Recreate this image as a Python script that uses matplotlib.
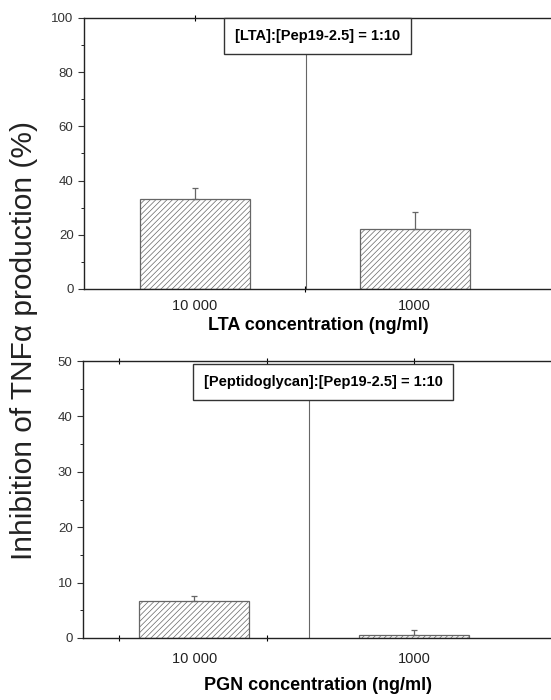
import matplotlib.pyplot as plt
from matplotlib.ticker import MultipleLocator

plt.rcParams['font.family'] = ['Liberation Sans', 'DejaVu Sans']
plt.rcParams['hatch.linewidth'] = 0.5

# data
categories = ['10 000', '1000']
lta_values = [33.2, 22.0]
lta_errors = [4.0, 6.5]
pgn_values = [6.6, 0.5]
pgn_errors = [0.9, 1.0]

W, H = 551, 700
fig = plt.figure(figsize=(W / 100, H / 100), dpi=100)

GREY = '#666666'


def panel(ax, values, errors, ymax, ystep, box_text, box_x, box_y, line_x, box_bottom, xlabel):
    xs = list(range(len(values)))
    ax.bar(xs, values, width=0.5, color='white', edgecolor=GREY, hatch='//////',
           linewidth=0.9, zorder=2)
    ax.errorbar(xs, values, yerr=[[0] * len(errors), errors], fmt='none',
                ecolor=GREY, elinewidth=0.9, capsize=2.5, capthick=0.9, zorder=3)
    ax.set_xlim(-0.505, 1.63)
    ax.set_ylim(0, ymax)
    ax.set_xticks(xs)
    ax.set_xticklabels(categories, fontsize=10.5, color='#222222')
    ax.tick_params(axis='x', length=0, pad=7)
    ax.yaxis.set_major_locator(MultipleLocator(ystep))
    ax.yaxis.set_minor_locator(MultipleLocator(ystep / 2))
    ax.tick_params(axis='y', which='major', direction='out', length=4, width=0.8,
                   labelsize=9.5, colors='#333333', right=True)
    ax.tick_params(axis='y', which='minor', direction='out', length=2, width=0.6,
                   right=True)
    ax.spines['right'].set_visible(False)
    for s in ['left', 'bottom', 'top']:
        ax.spines[s].set_linewidth(1.0)
        ax.spines[s].set_color('#222222')
    ax.set_xlabel(xlabel, fontsize=13, fontweight='bold', labelpad=3)
    # vertical divider line from box down to axis
    ax.plot([line_x, line_x], [0, box_bottom], color=GREY, lw=0.8, zorder=1)
    ax.text(box_x, box_y, box_text, fontsize=10.5, fontweight='bold',
            ha='center', va='center', zorder=4,
            bbox=dict(boxstyle='square,pad=0.75', fc='white', ec='#333333', lw=1.0))


def top_ticks(ax, positions):
    sec = ax.secondary_xaxis('top')
    sec.set_xticks(positions)
    sec.set_xticklabels([])
    sec.tick_params(direction='inout', length=5, width=0.8)
    sec.spines['top'].set_visible(False)


ax1 = fig.add_axes([84 / W, 1 - 289 / H, (553 - 84) / W, (289 - 18) / H])
panel(ax1, lta_values, lta_errors, 100, 20, '[LTA]:[Pep19-2.5] = 1:10',
      0.557, 93.5, 0.505, 87, 'LTA concentration (ng/ml)')
ax1.set_xticks([0.5], minor=True)
ax1.tick_params(axis='x', which='minor', direction='inout', length=5, width=0.8)
top_ticks(ax1, [0.0])

ax2 = fig.add_axes([83 / W, 1 - 638 / H, (553 - 83) / W, (638 - 361) / H])
panel(ax2, pgn_values, pgn_errors, 50, 10, '[Peptidoglycan]:[Pep19-2.5] = 1:10',
      0.585, 46.2, 0.52, 44, 'PGN concentration (ng/ml)')
ax2.set_xticks([-0.34, 0.33], minor=True)
ax2.tick_params(axis='x', which='minor', direction='inout', length=5, width=0.8)
top_ticks(ax2, [-0.34, 0.33, 1.0])
ax2.tick_params(axis='x', which='major', pad=10)
ax2.xaxis.labelpad = 8

fig.text(24 / W, 1 - 340 / H, 'Inhibition of TNF\u03b1 production (%)',
         rotation=90, fontsize=21.5, ha='center', va='center', color='#222222')

fig.savefig('out.png', dpi=100)
